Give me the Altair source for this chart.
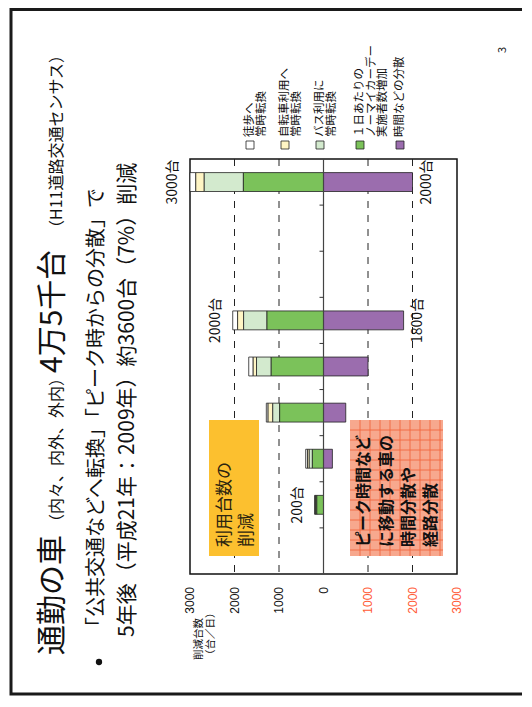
import altair as alt
import pandas as pd

# ---------------- data ----------------
years = ["16年度", "17年度", "18年度", "19年度", "20年度", "21年度", "22年度", "23年度", "24年度"]
walk       = [0, 15, 40, 40, 100, 110, 0, 0, 130]
bicycle    = [0, 15, 40, 105, 75, 135, 0, 0, 190]
bus        = [0, 20, 70, 155, 330, 525, 0, 0, 880]
no_mycar   = [0, 150, 250, 985, 1175, 1270, 0, 0, 1800]
time_shift = [0, 0, 200, 500, 1000, 1800, 0, 0, 2000]

series_names = ["徒歩へ常時転換", "自転車利用へ常時転換", "バス利用に常時転換",
                "1日あたりのノーマイカーデー実施者数増加", "時間などの分散"]
series_colors = ["#FFFFFF", "#FFF5C4", "#D3EACE", "#7BC25A", "#9B6DAE"]

x_ticks = [-3000, -2000, -1000, 0, 1000, 2000, 3000]
x_grid = [-2000, -1000, 1000, 2000]

ann_years = ["24年度", "24年度", "21年度", "21年度", "17年度"]
ann_sides = ["left", "right", "left", "right", "left"]
ann_texts = ["3000台", "2000台", "2000台", "1800台", "200台"]

title_parts = ["通勤の車", "（内々、内外、外内）", "4万5千台", "（H11道路交通センサス）"]
bullet_lines = ["「公共交通などへ転換」「ピーク時からの分散」で",
                "5年後（平成21年：2009年）約3600台（7%）削減"]
box1_lines = ["利用台数の", "削減"]
box2_lines = ["ピーク時間など", "に移動する車の", "時間分散や", "経路分散"]
legend_lines = [["徒歩へ", "常時転換"], ["自転車利用へ", "常時転換"], ["バス利用に", "常時転換"],
                ["１日あたりの", "ノーマイカーデー", "実施者数増加"], ["時間などの分散"]]
axis_title_lines = ["削減台数", "（台／日）"]
page_number = "3"

# ---------------- layout (page pixels) ----------------
JP = "Noto Sans CJK JP"
OX, OY = 190, 159          # plot origin on page
W, H = 267, 415            # plot size
PAD = {"left": OX - 8, "top": OY - 8, "right": 65, "bottom": 122}
STEP = H / 9.0

def px(x):
    return x - OX

def py(y):
    return y - OY

# ---------------- long table for bars ----------------
sign = [-1, -1, -1, -1, 1]
stack_rank = [3, 2, 1, 0, 0]
all_series = [walk, bicycle, bus, no_mycar, time_shift]
rows = []
for i, yr in enumerate(years):
    for k, name in enumerate(series_names):
        rows.append({"year": yr, "series": name, "value": sign[k] * all_series[k][i],
                     "rank": stack_rank[k]})
df = pd.DataFrame(rows)

reduction_total = {yr: walk[i] + bicycle[i] + bus[i] + no_mycar[i] for i, yr in enumerate(years)}
shift_total = {yr: time_shift[i] for i, yr in enumerate(years)}
ann_df = pd.DataFrame({
    "year": ann_years, "side": ann_sides, "text": ann_texts,
    "x": [-reduction_total[y] if s == "left" else shift_total[y] for y, s in zip(ann_years, ann_sides)],
})

yscale = alt.Scale(domain=years[::-1], paddingInner=0.59, paddingOuter=0.295)
xscale = alt.Scale(domain=[-3000, 3000], nice=False, zero=False)

layers = []

# slide frame
layers.append(
    alt.Chart(pd.DataFrame({"a": [0]})).mark_rect(fillOpacity=0, stroke="#1a1a1a", strokeWidth=3).encode(
        x=alt.value(px(11)), x2=alt.value(px(560)), y=alt.value(py(9.5)), y2=alt.value(py(694)))
)

# dashed grid lines
layers.append(
    alt.Chart(pd.DataFrame({"v": x_grid})).mark_rule(color="#222", strokeWidth=1, strokeDash=[7, 7]).encode(
        x=alt.X("v:Q", scale=xscale, axis=None))
)

# bars
bars = alt.Chart(df).transform_filter("datum.value != 0").mark_bar(stroke="#222", strokeWidth=0.8).encode(
    y=alt.Y("year:N", scale=yscale, sort=years[::-1],
            axis=alt.Axis(orient="right", labelAngle=270, labelAlign="center", labelBaseline="middle",
                          labelFontSize=9, labelFont=JP, labelColor="#222", labelPadding=13,
                          ticks=False, domain=False, title=None, grid=False)),
    x=alt.X("value:Q", stack="zero", scale=xscale, axis=None),
    color=alt.Color("series:N", scale=alt.Scale(domain=series_names, range=series_colors), legend=None),
    order=alt.Order("rank:Q"),
)
layers.append(bars)

# zero line
layers.append(
    alt.Chart(pd.DataFrame({"v": [0]})).mark_rule(color="#444", strokeWidth=1.2).encode(
        x=alt.X("v:Q", scale=xscale, axis=None))
)

# value-axis labels (black = reduction side, red = shift side)
layers.append(
    alt.Chart(pd.DataFrame({"v": x_ticks})).transform_calculate(lab="abs(datum.v)").mark_text(
        angle=270, align="right", baseline="middle", fontSize=12, font="Liberation Sans").encode(
        x=alt.X("v:Q", scale=xscale, axis=None),
        y=alt.value(H + 13),
        text="lab:N",
        color=alt.condition("datum.v > 0", alt.value("#FF5A36"), alt.value("#111")))
)

# bar annotations
for side, shift in [("left", -17), ("right", 14)]:
    layers.append(
        alt.Chart(ann_df).transform_filter(f"datum.side == '{side}'").mark_text(
            angle=270, dy=shift, fontSize=14, font=JP, align="center", baseline="middle", color="#111").encode(
            x=alt.X("x:Q", scale=xscale, axis=None),
            y=alt.Y("year:N", scale=yscale, sort=years[::-1], axis=None),
            text="text:N")
    )


def label(text, x, y, size, weight="normal", color="#111", align="left", baseline="middle", font=JP):
    return alt.Chart(pd.DataFrame({"t": [text]})).mark_text(
        angle=270, align=align, baseline=baseline, fontSize=size, fontWeight=weight,
        color=color, font=font).encode(text="t:N", x=alt.value(px(x)), y=alt.value(py(y)))


def box(x0, y0, x1, y1, fill, stroke=None):
    kw = {"fill": fill}
    if stroke:
        kw.update(stroke=stroke, strokeWidth=0.8)
    return alt.Chart(pd.DataFrame({"a": [0]})).mark_rect(**kw).encode(
        x=alt.value(px(x0)), x2=alt.value(px(x1)), y=alt.value(py(y0)), y2=alt.value(py(y1)))


def hline(x0, x1, y, color, w=1):
    return alt.Chart(pd.DataFrame({"a": [0]})).mark_rule(color=color, strokeWidth=w).encode(
        x=alt.value(px(x0)), x2=alt.value(px(x1)), y=alt.value(py(y)))


def vline(x, y0, y1, color, w=1):
    return alt.Chart(pd.DataFrame({"a": [0]})).mark_rule(color=color, strokeWidth=w).encode(
        x=alt.value(px(x)), y=alt.value(py(y0)), y2=alt.value(py(y1)))


# small category ticks on the zero line (band boundaries)
for k in range(1, 9):
    layers.append(hline(OX + W / 2 - 4, OX + W / 2, OY + STEP * k, "#333", 1))

# title
title_pos = [(655, 30), (530, 16), (373, 30), (236, 16)]
for t, (ys, sz) in zip(title_parts, title_pos):
    layers.append(label(t, 62, ys, sz, baseline="alphabetic"))

# bullet + subtitle
layers.append(alt.Chart(pd.DataFrame({"a": [0]})).mark_point(filled=True, size=40, color="#111", opacity=1).encode(
    x=alt.value(px(99)), y=alt.value(py(662))))
layers.append(label(bullet_lines[0], 97, 637, 20))
layers.append(label(bullet_lines[1], 128, 637, 21))

# yellow box
layers.append(box(209, 420, 259, 556, "#FCC02F"))
for t, xx in zip(box1_lines, [225, 247]):
    layers.append(label(t, xx, 547, 17, color="#2b2410"))

# red hatched box
layers.append(box(350, 420, 443, 556, "#F7A88E"))
for k in range(1, 10):
    layers.append(vline(350 + 10 * k, 420, 556, "#F0663F", 0.9))
for k in range(1, 14):
    layers.append(hline(350, 443, 420 + 10 * k, "#F0663F", 0.9))
for t, xx in zip(box2_lines, [364, 387, 409, 431]):
    layers.append(label(t, xx, 547, 16, weight="bold"))

# legend
legend_x = [250, 285, 320, 360, 400]
for k, lines in enumerate(legend_lines):
    x0 = legend_x[k]
    layers.append(box(x0 - 4, 141, x0 + 4, 149, series_colors[k], stroke="#222"))
    for j, t in enumerate(lines):
        layers.append(label(t, x0 + 11.5 * j, 137, 11.5))

# axis title (below the value labels)
layers.append(label(axis_title_lines[0], 199, 660, 10.5))
layers.append(label(axis_title_lines[1], 211, 660, 10.5))

# page number
layers.append(label(page_number, 503, 50, 11, align="center"))

chart = alt.layer(*layers).properties(
    width=W, height=H, padding=PAD, autosize=alt.AutoSizeParams(type="none"),
    background="white",
).configure_view(stroke="#111", strokeWidth=1.5)

chart.save("out.html", embed_options={"renderer": "svg", "actions": False})
